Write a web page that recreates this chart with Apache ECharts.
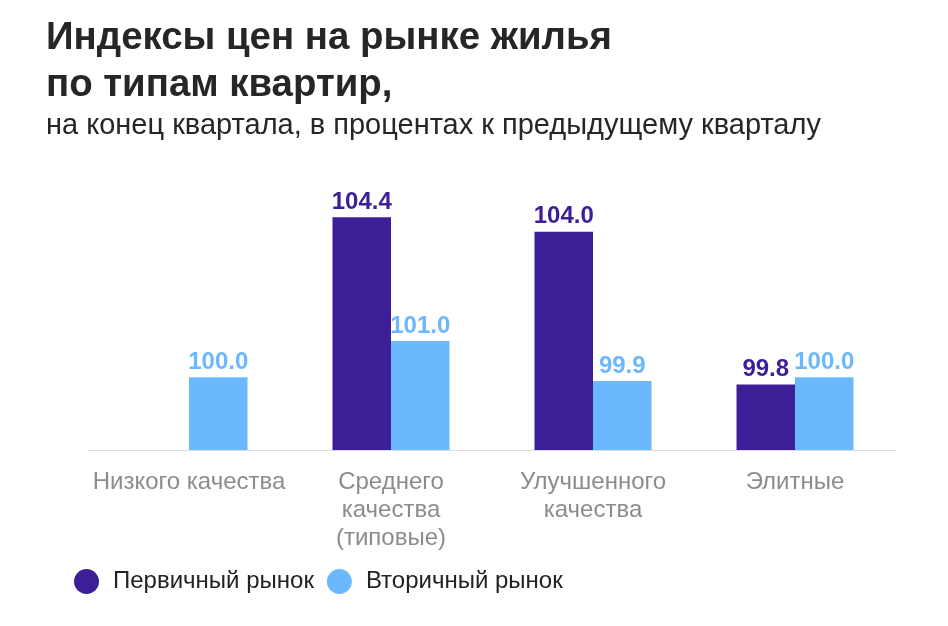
<!DOCTYPE html>
<html>
<head>
<meta charset="utf-8">
<script src="https://cdn.jsdelivr.net/npm/echarts@6/dist/echarts.min.js"></script>
<style>
html,body{margin:0;padding:0;background:#fff;}
#chart{width:948px;height:626px;}
</style>
</head>
<body>
<div id="chart"></div>
<script>
const titleText = 'Индексы цен на рынке жилья\nпо типам квартир,';
const subtitleText = 'на конец квартала, в процентах к предыдущему кварталу';
const categories = ['Низкого качества', 'Среднего\nкачества\n(типовые)', 'Улучшенного\nкачества', 'Элитные'];
const primaryName = 'Первичный рынок';
const secondaryName = 'Вторичный рынок';
const primaryValues = [null, 104.4, 104.0, 99.8];
const secondaryValues = [100.0, 101.0, 99.9, 100.0];

const FONT = "'Liberation Sans', Arial, Helvetica, sans-serif";
const DARK = '#3c1e96';
const LIGHT = '#6cb8fe';

const chart = echarts.init(document.getElementById('chart'));
const labelCfg = (color) => ({
  show: true,
  position: 'top',
  distance: 3,
  fontFamily: FONT,
  fontSize: 24,
  fontWeight: 'bold',
  color: color,
  formatter: (p) => p.value == null ? '' : Number(p.value).toFixed(1)
});
chart.setOption({
  animation: false,
  backgroundColor: '#fff',
  title: [
    {
      text: titleText,
      left: 41,
      top: 10,
      textStyle: { fontFamily: FONT, fontSize: 38.4, fontWeight: 'bold', color: '#262626', lineHeight: 47 }
    },
    {
      text: subtitleText,
      left: 41,
      top: 104,
      textStyle: { fontFamily: FONT, fontSize: 29, fontWeight: 'normal', color: '#262626', lineHeight: 34 }
    }
  ],
  legend: {
    left: 69,
    top: 564,
    icon: 'circle',
    itemWidth: 43,
    itemHeight: 25,
    itemGap: 13,
    textStyle: { fontFamily: FONT, fontSize: 24, color: '#222' },
    data: [primaryName, secondaryName]
  },
  grid: { left: 88, right: 52, top: 195.5, bottom: 176, containLabel: false },
  xAxis: {
    type: 'category',
    data: categories,
    axisLine: { show: true, lineStyle: { color: '#dcdcdc', width: 1 } },
    axisTick: { show: false },
    axisLabel: { margin: 18, fontFamily: FONT, fontSize: 24, color: '#8c8c8c', lineHeight: 28.3, interval: 0 }
  },
  yAxis: {
    type: 'value',
    min: 98,
    max: 105,
    show: false,
    splitLine: { show: false }
  },
  series: [
    {
      name: primaryName,
      type: 'bar',
      data: primaryValues,
      barWidth: 58.5,
      barGap: '0%',
      itemStyle: { color: DARK },
      label: labelCfg(DARK)
    },
    {
      name: secondaryName,
      type: 'bar',
      data: secondaryValues,
      barWidth: 58.5,
      barGap: '0%',
      itemStyle: { color: LIGHT },
      label: labelCfg(LIGHT)
    }
  ]
});
</script>
</body>
</html>
